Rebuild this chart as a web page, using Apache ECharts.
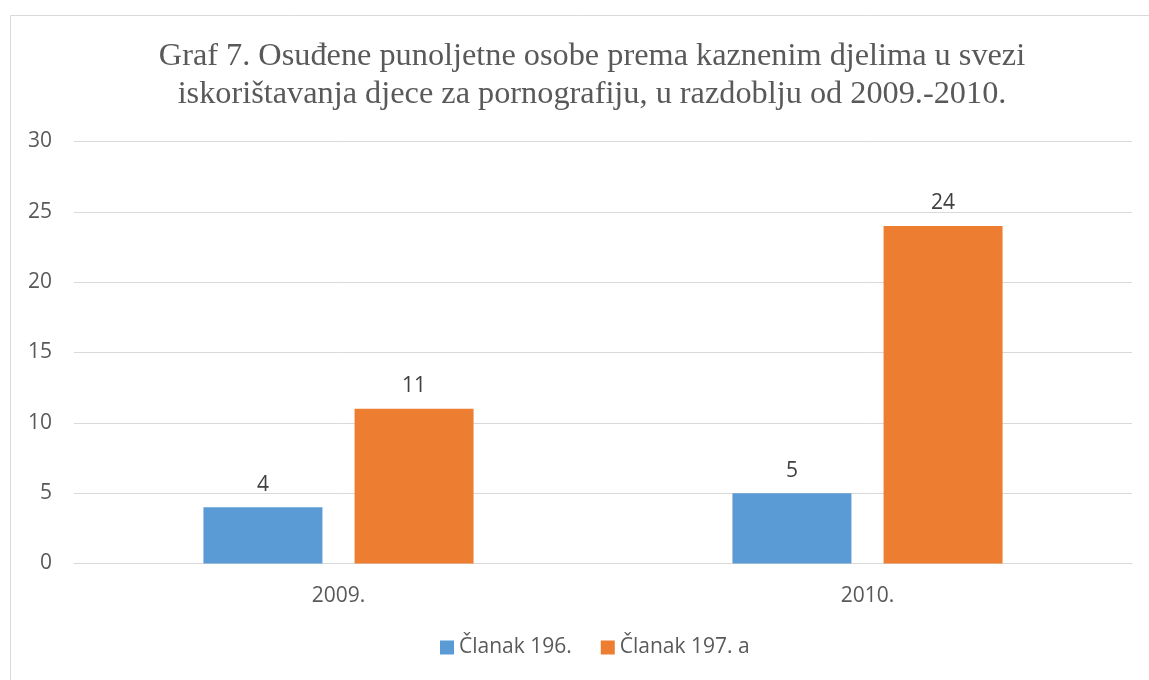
<!DOCTYPE html>
<html><head><meta charset="utf-8">
<script src="https://cdn.jsdelivr.net/npm/echarts@6/dist/echarts.min.js"></script>
<style>html,body{margin:0;padding:0;background:#fff}#c{width:1149px;height:680px}</style>
</head><body><div id="c"></div>
<script>
var titleText = 'Graf 7. Osuđene punoljetne osobe prema kaznenim djelima u svezi\niskorištavanja djece za pornografiju, u razdoblju od 2009.-2010.';
var categories = ['2009.', '2010.'];
var seriesNames = ['Članak 196.', 'Članak 197. a'];
var clanak196 = [4, 5];
var clanak197a = [11, 24];
var yTicks = [0, 5, 10, 15, 20, 25, 30];

var chart = echarts.init(document.getElementById('c'), null, {renderer: 'canvas'});
var labelFont = {fontFamily: 'Open Sans', fontSize: 21, color: '#595959'};
chart.setOption({
  animation: false,
  backgroundColor: '#fff',
  graphic: [{
    type: 'rect', shape: {x: 10.5, y: 15.5, width: 1160, height: 700},
    style: {fill: 'none', stroke: '#D9D9D9', lineWidth: 1}, silent: true, z: -1
  }],
  title: {
    text: titleText, left: 587, top: 33, textAlign: 'center',
    textStyle: {fontFamily: 'Liberation Serif', fontSize: 32.3, fontWeight: 'normal', color: '#595959', lineHeight: 38}
  },
  legend: {
    data: seriesNames, bottom: 17, left: 435, itemWidth: 14, itemHeight: 14, itemGap: 29,
    icon: 'rect', textStyle: {fontFamily: 'Open Sans', fontSize: 21, color: '#595959'}
  },
  grid: {left: 74, right: 17, top: 141.5, bottom: 116.5, containLabel: false},
  xAxis: {
    type: 'category', data: categories,
    axisLine: {lineStyle: {color: '#D9D9D9', width: 1}}, axisTick: {show: false},
    axisLabel: Object.assign({margin: 22}, labelFont)
  },
  yAxis: {
    type: 'value', min: yTicks[0], max: yTicks[yTicks.length - 1], interval: 5,
    axisLine: {show: false}, axisTick: {show: false},
    splitLine: {lineStyle: {color: '#D9D9D9', width: 1}},
    axisLabel: Object.assign({margin: 22}, labelFont)
  },
  series: [
    {name: seriesNames[0], type: 'bar', data: clanak196, barWidth: 119, barGap: '27%',
     itemStyle: {color: '#5B9BD5'},
     label: {show: true, position: 'top', distance: 12, fontFamily: 'Open Sans', fontSize: 21, color: '#404040'}},
    {name: seriesNames[1], type: 'bar', data: clanak197a, barWidth: 119, barGap: '27%',
     itemStyle: {color: '#ED7D31'},
     label: {show: true, position: 'top', distance: 12, fontFamily: 'Open Sans', fontSize: 21, color: '#404040'}}
  ]
});
</script></body></html>
